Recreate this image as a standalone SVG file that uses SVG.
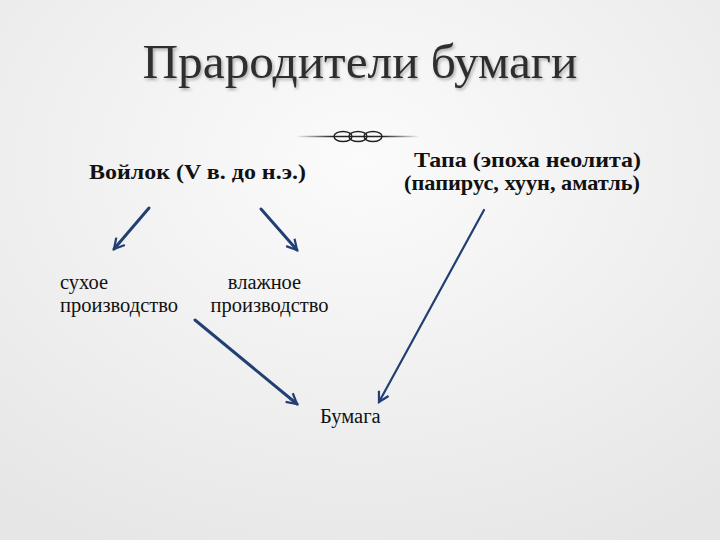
<svg xmlns="http://www.w3.org/2000/svg" width="720" height="540" viewBox="0 0 720 540">
<defs>
<radialGradient id="bg" cx="0.5" cy="0.3" r="0.8">
<stop offset="0" stop-color="#fbfbfb"/>
<stop offset="1" stop-color="#e6e6e6"/>
</radialGradient>
<linearGradient id="rule" gradientUnits="userSpaceOnUse" x1="296" x2="420" y1="0" y2="0">
<stop offset="0" stop-color="#222" stop-opacity="0"/>
<stop offset="0.3" stop-color="#222"/>
<stop offset="0.7" stop-color="#222"/>
<stop offset="1" stop-color="#222" stop-opacity="0"/>
</linearGradient>
<filter id="sh" x="-5%" y="-20%" width="110%" height="150%">
<feDropShadow dx="1.5" dy="2" stdDeviation="1.5" flood-color="#000" flood-opacity="0.3"/>
</filter>
<marker id="ah" viewBox="0 0 12 12" refX="10" refY="6" markerWidth="4.5" markerHeight="4.5" orient="auto" markerUnits="strokeWidth">
<path d="M1,1 L10,6 L1,11" fill="none" stroke="#223f74" stroke-width="2"/>
</marker>
<marker id="ah2" viewBox="0 0 12 12" refX="10" refY="6" markerWidth="6" markerHeight="6" orient="auto" markerUnits="strokeWidth">
<path d="M1,1 L10,6 L1,11" fill="none" stroke="#223f74" stroke-width="2"/>
</marker>
</defs>
<style>
.t{font-family:"Liberation Serif","Times New Roman",serif;fill:#111}
.b{font-weight:bold;font-size:21px}
.r{font-size:20.5px}
.c{stroke:#223f74;stroke-width:3;fill:none;stroke-linecap:round}
</style>
<rect width="720" height="540" fill="url(#bg)"/>
<g id="title">
<text x="360" y="78" text-anchor="middle" font-family="Liberation Serif, 'Times New Roman', serif" font-size="49" fill="#2e2e2e" filter="url(#sh)" textLength="435" lengthAdjust="spacingAndGlyphs">Прародители бумаги</text>
</g>
<g id="ornament" fill="none" stroke="#222">
<path d="M296,136.5 L420,136.5" stroke="url(#rule)" stroke-width="1.6"/>
<ellipse cx="343" cy="136.5" rx="9" ry="5" stroke-width="1.4"/>
<ellipse cx="358" cy="136.5" rx="9" ry="5" stroke-width="1.4"/>
<ellipse cx="373" cy="136.5" rx="9" ry="5" stroke-width="1.4"/>
</g>
<g id="voilok"><text x="89" y="179" class="t b" style="font-size:22px" textLength="217" lengthAdjust="spacingAndGlyphs">Войлок (V в. до н.э.)</text></g>
<g id="tapa">
<text x="414" y="167" class="t b" textLength="227" lengthAdjust="spacingAndGlyphs">Тапа (эпоха неолита)</text>
<text x="404" y="190" class="t b" textLength="236" lengthAdjust="spacingAndGlyphs">(папирус, хуун, аматль)</text>
</g>
<g id="dry">
<text x="60" y="289" class="t r">сухое</text>
<text x="60" y="312" class="t r">производство</text>
</g>
<g id="wet">
<text x="264.5" y="289" text-anchor="middle" class="t r">влажное</text>
<text x="269.5" y="312" text-anchor="middle" class="t r">производство</text>
</g>
<g id="paper"><text x="320" y="423" class="t r">Бумага</text></g>
<g id="connectors">
<line x1="149" y1="208" x2="114" y2="249" class="c" marker-end="url(#ah)"/>
<line x1="261" y1="209" x2="297" y2="250" class="c" marker-end="url(#ah)"/>
<line x1="195" y1="320" x2="297" y2="404" class="c" marker-end="url(#ah)"/>
<line x1="484" y1="210" x2="379" y2="402" class="c" stroke-width="2.2" style="stroke-width:2.2" marker-end="url(#ah2)"/>
</g>
</svg>
